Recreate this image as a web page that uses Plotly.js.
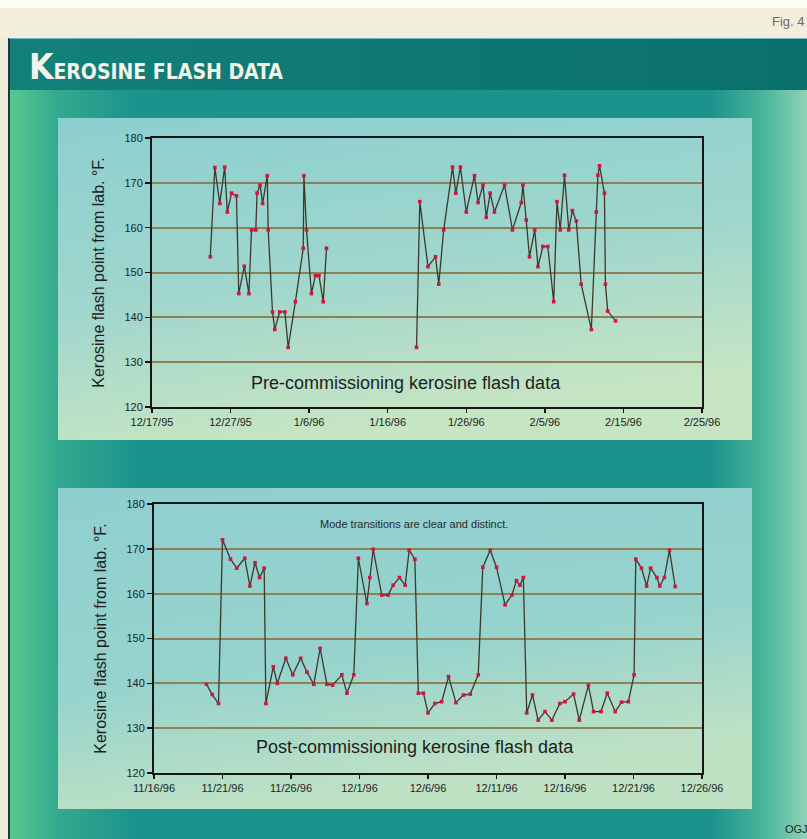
<!DOCTYPE html>
<html>
<head>
<meta charset="utf-8">
<script src="https://cdn.plot.ly/plotly-3.0.1.min.js"></script>
<style>html,body{margin:0;padding:0;background:#fff;}#chart{width:807px;height:839px;}</style>
</head>
<body>
<div id="chart"></div>
<script>
// ---------- DATA ----------
const preDates1 = ["1995-12-24 10:00","1995-12-25 00:00","1995-12-25 15:00","1995-12-26 06:00","1995-12-26 14:00","1995-12-27 03:00","1995-12-27 18:00","1995-12-28 01:00","1995-12-28 18:00","1995-12-29 08:00","1995-12-29 16:00","1995-12-30 05:00","1995-12-30 09:00","1995-12-30 18:00","1995-12-31 02:00","1995-12-31 16:00","1995-12-31 19:00","1996-01-01 08:00","1996-01-01 15:00","1996-01-02 06:00","1996-01-02 22:00","1996-01-03 08:00","1996-01-04 06:00","1996-01-05 06:00","1996-01-05 08:00","1996-01-05 16:00","1996-01-06 07:00","1996-01-06 19:00","1996-01-07 06:00","1996-01-07 19:00","1996-01-08 05:00"];
const preVals1 = [153.5,173.4,165.4,173.5,163.5,167.7,167.1,145.3,151.4,145.3,159.5,159.5,167.7,169.5,165.4,171.6,159.5,141.2,137.3,141.2,141.2,133.3,143.5,155.4,171.6,159.5,145.3,149.3,149.3,143.5,155.4];

const preDates2 = ["1996-01-19 16:00","1996-01-20 02:00","1996-01-21 03:00","1996-01-22 02:00","1996-01-22 12:00","1996-01-23 03:00","1996-01-24 06:00","1996-01-24 16:00","1996-01-25 06:00","1996-01-26 00:00","1996-01-27 01:00","1996-01-27 12:00","1996-01-28 03:00","1996-01-28 13:00","1996-01-29 01:00","1996-01-29 14:00","1996-01-30 21:00","1996-01-31 21:00","1996-02-02 00:00","1996-02-02 05:00","1996-02-02 15:00","1996-02-03 01:00","1996-02-03 17:00","1996-02-04 03:00","1996-02-04 18:00","1996-02-05 09:00","1996-02-06 03:00","1996-02-06 13:00","1996-02-06 23:00","1996-02-07 12:00","1996-02-08 01:00","1996-02-08 12:00","1996-02-09 00:00","1996-02-09 15:00","1996-02-10 22:00","1996-02-11 13:00","1996-02-11 18:00","1996-02-11 23:00","1996-02-12 14:00","1996-02-12 17:00","1996-02-13 00:00","1996-02-14 00:00"];
const preVals2 = [133.3,165.8,151.3,153.5,147.4,159.5,173.5,167.7,173.5,163.5,171.6,165.6,169.5,162.3,167.7,163.5,169.5,159.5,165.6,169.5,161.7,153.5,159.5,151.3,155.8,155.8,143.5,165.8,159.5,171.7,159.5,163.8,161.5,147.4,137.3,163.5,171.7,173.8,167.7,147.4,141.4,139.2];

const postDates = ["1996-11-19 20:00","1996-11-20 06:00","1996-11-20 17:00","1996-11-21 00:00","1996-11-21 14:00","1996-11-22 01:00","1996-11-22 15:00","1996-11-23 00:00","1996-11-23 09:00","1996-11-23 17:00","1996-11-24 01:00","1996-11-24 04:00","1996-11-24 17:00","1996-11-25 00:00","1996-11-25 15:00","1996-11-26 03:00","1996-11-26 17:00","1996-11-27 04:00","1996-11-27 16:00","1996-11-28 03:00","1996-11-28 15:00","1996-11-29 01:00","1996-11-29 17:00","1996-11-30 02:00","1996-11-30 14:00","1996-11-30 22:00","1996-12-01 13:00","1996-12-01 18:00","1996-12-02 00:00","1996-12-02 15:00","1996-12-03 02:00","1996-12-03 11:00","1996-12-03 22:00","1996-12-04 08:00","1996-12-04 15:00","1996-12-05 01:00","1996-12-05 07:00","1996-12-05 16:00","1996-12-06 00:00","1996-12-06 12:00","1996-12-07 00:00","1996-12-07 12:00","1996-12-08 01:00","1996-12-08 14:00","1996-12-09 02:00","1996-12-09 16:00","1996-12-10 00:00","1996-12-10 13:00","1996-12-11 00:00","1996-12-11 15:00","1996-12-12 03:00","1996-12-12 11:00","1996-12-12 17:00","1996-12-12 23:00","1996-12-13 05:00","1996-12-13 15:00","1996-12-14 01:00","1996-12-14 13:00","1996-12-15 01:00","1996-12-15 15:00","1996-12-16 00:00","1996-12-16 15:00","1996-12-17 01:00","1996-12-17 17:00","1996-12-18 02:00","1996-12-18 15:00","1996-12-19 02:00","1996-12-19 16:00","1996-12-20 03:00","1996-12-20 15:00","1996-12-21 01:00","1996-12-21 04:00","1996-12-21 14:00","1996-12-21 23:00","1996-12-22 06:00","1996-12-22 17:00","1996-12-22 22:00","1996-12-23 06:00","1996-12-23 15:00","1996-12-24 01:00"];
const postVals = [139.8,137.5,135.5,172,167.7,165.7,167.9,161.7,166.9,163.6,165.7,135.5,143.7,140,145.6,141.9,145.6,142.5,139.8,147.8,139.8,139.6,141.9,137.8,141.9,167.9,157.8,163.6,169.9,159.7,159.7,161.9,163.6,161.9,169.7,167.7,137.8,137.8,133.4,135.5,135.9,141.5,135.7,137.4,137.6,141.9,165.9,169.7,165.9,157.5,159.7,162.9,161.9,163.6,133.4,137.4,131.8,133.7,131.8,135.5,135.9,137.6,131.8,139.6,133.7,133.7,137.8,133.7,135.8,135.9,141.9,167.7,165.7,161.7,165.7,163.6,161.7,163.6,169.7,161.6];

const preTickVals = ["1995-12-17","1995-12-27","1996-01-06","1996-01-16","1996-01-26","1996-02-05","1996-02-15","1996-02-25"];
const preTickText = ["12/17/95","12/27/95","1/6/96","1/16/96","1/26/96","2/5/96","2/15/96","2/25/96"];
const postTickVals = ["1996-11-16","1996-11-21","1996-11-26","1996-12-01","1996-12-06","1996-12-11","1996-12-16","1996-12-21","1996-12-26"];
const postTickText = ["11/16/96","11/21/96","11/26/96","12/1/96","12/6/96","12/11/96","12/16/96","12/21/96","12/26/96"];

const yTitle = "Kerosine flash point from lab. °F.";
const preLabel = "Pre-commissioning kerosine flash data";
const postLabel = "Post-commissioning kerosine flash data";
const postNote = "Mode transitions are clear and distinct.";

// ---------- STYLE ----------
const W = 807, H = 839;
const px = x => x / W;
const py = y => 1 - y / H;
const lineCol = "#3b3a2a", markCol = "#d01540";
const gridCol = "#8f8156";
const tickFont = {family: "Liberation Sans, Arial, sans-serif", size: 11, color: "#1e1e1e"};

function series(x, y, xa, ya) {
  return {x: x, y: y, xaxis: xa, yaxis: ya, type: "scatter", mode: "lines+markers",
    line: {color: lineCol, width: 1.3},
    marker: {symbol: "square", size: 3.6, color: markCol},
    hoverinfo: "x+y"};
}
const traces = [
  series(preDates1, preVals1, "x", "y"),
  series(preDates2, preVals2, "x", "y"),
  series(postDates, postVals, "x2", "y2")
];

function xax(dom, range, tv, tt, anchor) {
  return {domain: dom, anchor: anchor, type: "date", range: range, tickmode: "array",
    tickvals: tv, ticktext: tt, ticks: "outside", ticklen: 4, tickwidth: 1.5, tickcolor: "#111",
    showgrid: false, showline: true, linecolor: "#161616", linewidth: 2, mirror: true,
    tickfont: tickFont, fixedrange: true};
}
function yax(dom, anchor) {
  return {domain: dom, anchor: anchor, range: [120, 180], dtick: 10, tick0: 120,
    ticks: "outside", ticklen: 5, tickwidth: 1.5, tickcolor: "#111",
    showgrid: true, gridcolor: gridCol, gridwidth: 2, zeroline: false,
    showline: true, linecolor: "#161616", linewidth: 2, mirror: true,
    tickfont: tickFont, fixedrange: true,
    title: {text: yTitle, standoff: 16, font: {family: "Liberation Sans, Arial, sans-serif", size: 16, color: "#1e1e1e"}}};
}

const svg = `<svg xmlns='http://www.w3.org/2000/svg' width='807' height='839' viewBox='0 0 807 839' preserveAspectRatio='none'>
<defs>
<linearGradient id='fr' x1='0' y1='0' x2='1' y2='0'>
<stop offset='0' stop-color='#58ca8e'/><stop offset='0.06' stop-color='#34aa8f'/><stop offset='0.16' stop-color='#1b928c'/>
<stop offset='0.88' stop-color='#1b928c'/><stop offset='0.95' stop-color='#4eb79c'/><stop offset='1' stop-color='#8fd3b8'/></linearGradient>
<linearGradient id='hd' x1='0' y1='0' x2='1' y2='0'><stop offset='0' stop-color='#13807a'/><stop offset='1' stop-color='#0b706c'/></linearGradient>
<linearGradient id='p1' x1='0' y1='0' x2='0.3' y2='1'><stop offset='0' stop-color='#8ccfd0'/><stop offset='0.55' stop-color='#9fd6cd'/><stop offset='1' stop-color='#c6e5c3'/></linearGradient>
<linearGradient id='p2' x1='0' y1='0' x2='0.3' y2='1'><stop offset='0' stop-color='#8ecfcf'/><stop offset='0.6' stop-color='#97d3cd'/><stop offset='1' stop-color='#c0e2c4'/></linearGradient>
</defs>
<rect x='0' y='0' width='807' height='839' fill='#fdfdf8'/>
<rect x='0' y='8' width='807' height='30' fill='#f1eedb'/>
<rect x='0' y='38' width='9' height='801' fill='#eeecd9'/>
<rect x='9' y='38' width='798' height='52' fill='url(#hd)'/>
<rect x='9' y='90' width='798' height='749' fill='url(#fr)'/>
<rect x='58' y='118' width='694' height='322' fill='url(#p1)'/>
<rect x='58' y='488' width='694' height='321' fill='url(#p2)'/>
<line x1='9' y1='38' x2='9' y2='839' stroke='#1d3a3a' stroke-width='2'/>
<line x1='9' y1='38.5' x2='807' y2='38.5' stroke='#6fb5c6' stroke-width='1'/>
</svg>`;

const layout = {
  width: W, height: H,
  margin: {l: 0, r: 0, t: 0, b: 0, pad: 0},
  paper_bgcolor: "#1b928c",
  plot_bgcolor: "#fdd39b",
  showlegend: false,
  xaxis: xax([px(152), px(702)], ["1995-12-17", "1996-02-25"], preTickVals, preTickText, "y"),
  yaxis: yax([py(407), py(138)], "x"),
  xaxis2: xax([px(154), px(702)], ["1996-11-16", "1996-12-26"], postTickVals, postTickText, "y2"),
  yaxis2: yax([py(773), py(504)], "x2"),
  images: [{source: "data:image/svg+xml;charset=utf-8," + encodeURIComponent(svg),
    xref: "paper", yref: "paper", x: 0, y: 1, sizex: 1, sizey: 1,
    xanchor: "left", yanchor: "top", sizing: "stretch", layer: "below"}],
  annotations: [
    {xref: "paper", yref: "paper", x: px(27), y: py(67), xanchor: "left", yanchor: "middle", showarrow: false,
     text: "<b>K<span style='font-size:21px'>EROSINE FLASH DATA</span></b>",
     font: {family: "DejaVu Sans Condensed, Liberation Sans Narrow, sans-serif", size: 35, color: "#f3f3ea"}},
    {xref: "paper", yref: "paper", x: px(770), y: py(22), xanchor: "left", yanchor: "middle", showarrow: false,
     text: "Fig. 4", font: {family: "Liberation Sans, Arial, sans-serif", size: 13, color: "#6a6a66"}},
    {xref: "paper", yref: "paper", x: px(783), y: py(829), xanchor: "left", yanchor: "middle", showarrow: false,
     text: "OGJ", font: {family: "Liberation Sans, Arial, sans-serif", size: 11, color: "#1a2a2a"}},
    {xref: "paper", yref: "paper", x: px(406), y: py(383), xanchor: "center", yanchor: "middle", showarrow: false,
     text: preLabel, font: {family: "Liberation Sans, Arial, sans-serif", size: 18, color: "#1e1e1e"}},
    {xref: "paper", yref: "paper", x: px(415), y: py(747), xanchor: "center", yanchor: "middle", showarrow: false,
     text: postLabel, font: {family: "Liberation Sans, Arial, sans-serif", size: 18, color: "#1e1e1e"}},
    {xref: "paper", yref: "paper", x: px(414), y: py(524), xanchor: "center", yanchor: "middle", showarrow: false,
     text: postNote, font: {family: "Liberation Sans, Arial, sans-serif", size: 11, color: "#2a2a2a"}}
  ]
};

Plotly.newPlot("chart", traces, layout, {displayModeBar: false, staticPlot: true});
</script>
</body>
</html>
